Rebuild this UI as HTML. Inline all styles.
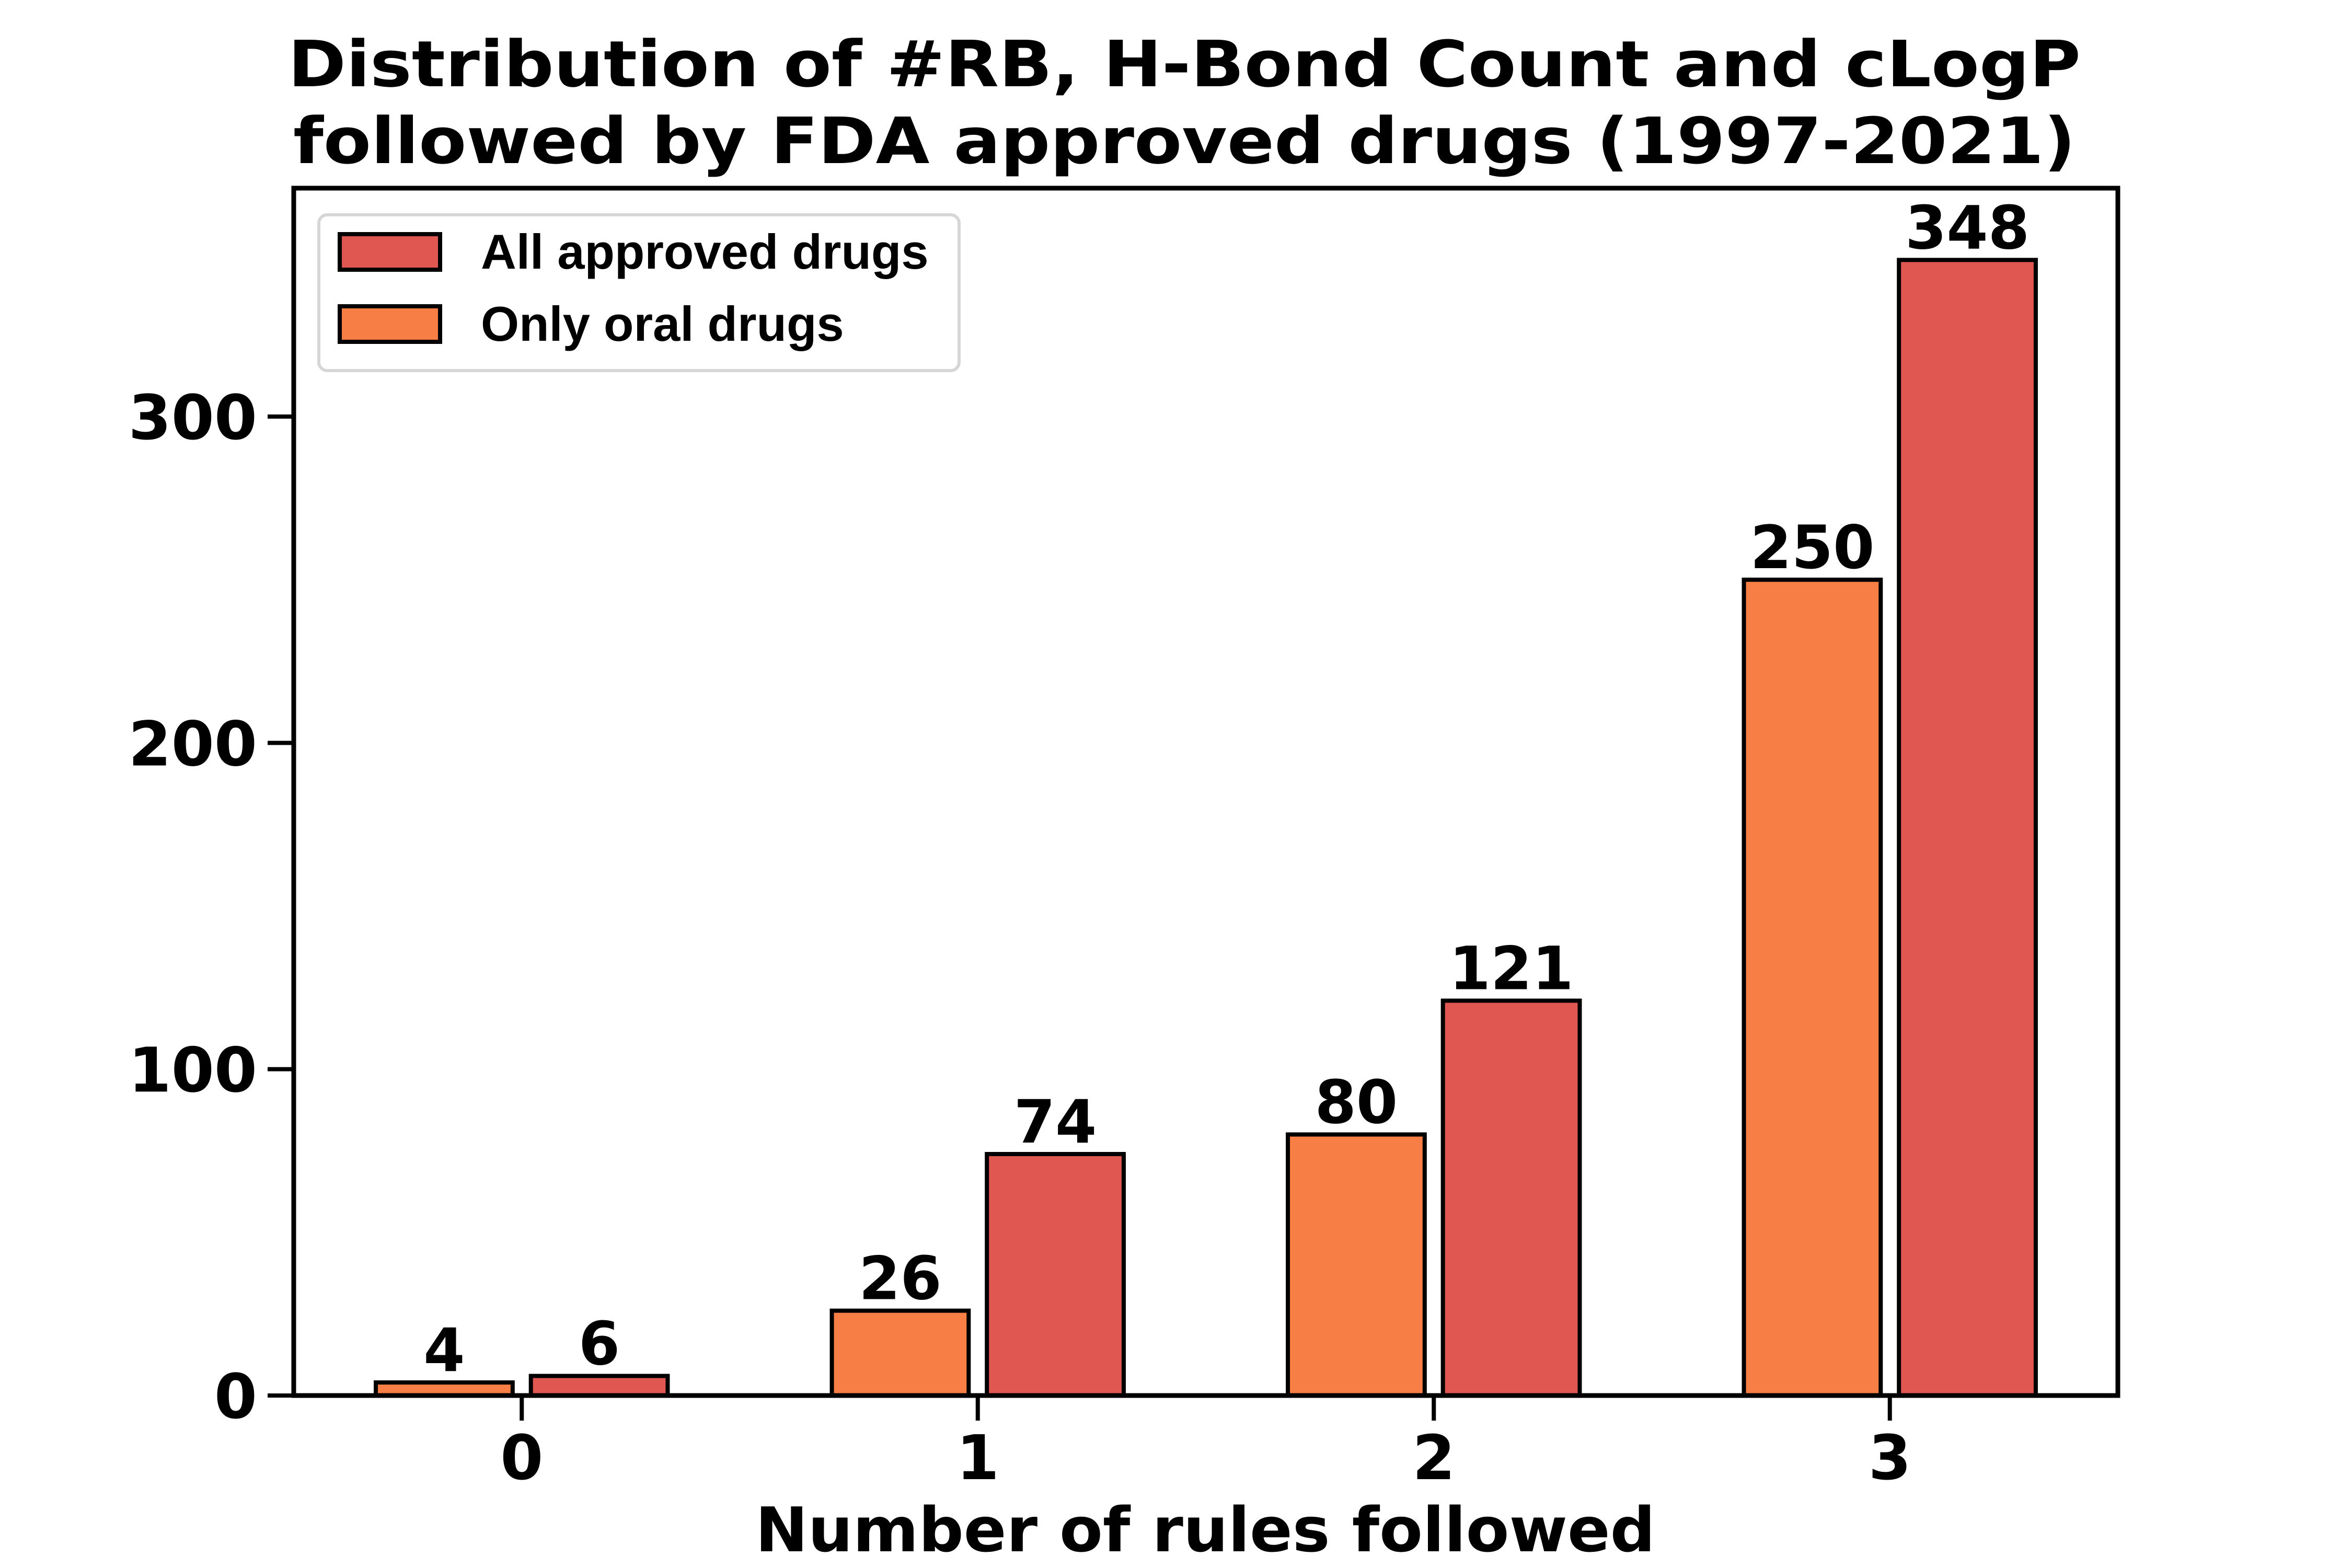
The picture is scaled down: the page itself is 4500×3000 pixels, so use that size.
<!DOCTYPE html>
<html><head><meta charset="utf-8"><style>
html,body{margin:0;padding:0;background:#fff;}
svg{display:block;}
</style></head><body>
<svg id="chart" width="4500" height="3000" viewBox="0 0 4500 3000" xmlns="http://www.w3.org/2000/svg">
<rect x="0" y="0" width="4500" height="3000" fill="#fff"/>
<g font-family="DejaVu Sans, sans-serif" font-weight="bold" fill="#000">
<text x="2266" y="165" font-size="122" text-anchor="middle" textLength="3430" lengthAdjust="spacingAndGlyphs">Distribution of #RB, H-Bond Count and cLogP</text>
<text x="2266" y="312" font-size="122" text-anchor="middle" textLength="3410" lengthAdjust="spacingAndGlyphs">followed by FDA approved drugs (1997-2021)</text>
<text x="2306" y="2968" font-size="118" text-anchor="middle" textLength="1722" lengthAdjust="spacingAndGlyphs">Number of rules followed</text>
</g>
<g id="plot"></g>
<g id="legend">
<rect x="610" y="411" width="1225" height="298" rx="16" fill="#fff" stroke="#d6d6d6" stroke-width="6"/>
<rect x="650" y="448" width="192" height="68" fill="#e05651" stroke="#000" stroke-width="8"/>
<text x="920" y="514" font-family="Liberation Sans, Arial, sans-serif" font-weight="bold" font-size="94">All approved drugs</text>
<rect x="650" y="586" width="192" height="68" fill="#f77f46" stroke="#000" stroke-width="8"/>
<text x="920" y="652" font-family="Liberation Sans, Arial, sans-serif" font-weight="bold" font-size="94">Only oral drugs</text>
</g>
</svg>
<script>
const categories = ["0", "1", "2", "3"];
const oralValues = [4, 26, 80, 250];
const allValues = [6, 74, 121, 348];
const yTicks = [0, 100, 200, 300];

const NS = "http://www.w3.org/2000/svg";
const L = 562, R = 4052, T = 360, B = 2670;
const xMin = -0.5, xMax = 3.5, yMin = 0, yMax = 370;
function xs(v){ return L + (v - xMin) / (xMax - xMin) * (R - L); }
function ys(v){ return B - (v - yMin) / (yMax - yMin) * (B - T); }
const plot = document.getElementById('plot');
function mk(tag, attrs){ const e = document.createElementNS(NS, tag); for (const k in attrs) e.setAttribute(k, attrs[k]); plot.appendChild(e); return e; }

const bw = 0.30, off = 0.17;
function drawSeries(vals, dx, color, nm){
  vals.forEach((v, i) => {
    const x0 = xs(i + dx - bw/2), x1 = xs(i + dx + bw/2);
    const r = mk('rect', {x: x0, y: ys(v), width: x1 - x0, height: B - ys(v), fill: color, stroke: '#000', 'stroke-width': 8});
    
    
    const t = mk('text', {x: (x0 + x1)/2, y: ys(v) - 22, 'text-anchor': 'middle', 'font-family': 'DejaVu Sans, sans-serif', 'font-weight': 'bold', 'font-size': 114});
    t.textContent = String(v);
    
    
  });
}
drawSeries(oralValues, -off, '#f77f46', 'oral');
drawSeries(allValues, off, '#e05651', 'all');

const frame = mk('rect', {x: L, y: T, width: R - L, height: B - T, fill: 'none', stroke: '#000', 'stroke-width': 9});



yTicks.forEach(v => {
  const ln = mk('line', {x1: L - 50, x2: L, y1: ys(v), y2: ys(v), stroke: '#000', 'stroke-width': 8});
  
  
  const t = mk('text', {x: L - 70, y: ys(v) + 43, 'text-anchor': 'end', 'font-family': 'DejaVu Sans, sans-serif', 'font-weight': 'bold', 'font-size': 118});
  t.textContent = String(v);
  
  
});
categories.forEach((c, i) => {
  const ln = mk('line', {x1: xs(i), x2: xs(i), y1: B, y2: B + 48, stroke: '#000', 'stroke-width': 8});
  
  
  const t = mk('text', {x: xs(i), y: B + 160, 'text-anchor': 'middle', 'font-family': 'DejaVu Sans, sans-serif', 'font-weight': 'bold', 'font-size': 118});
  t.textContent = c;
  
  
});
</script>
</body></html>
